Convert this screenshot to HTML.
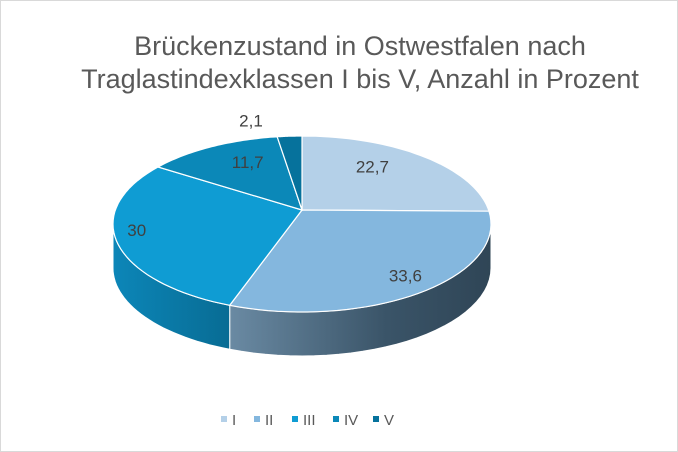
<!DOCTYPE html>
<html><head><meta charset="utf-8"><style>
html,body{margin:0;padding:0;background:#fff}
svg{display:block;font-family:"Liberation Sans",sans-serif}
</style></head><body>
<svg id="chart" width="678" height="452" viewBox="0 0 678 452">
<defs>
<linearGradient id="gII" x1="0" x2="1" y1="0" y2="0"><stop offset="0" stop-color="#6a8aa3"/><stop offset="0.6" stop-color="#3a5468"/><stop offset="1" stop-color="#2f4556"/></linearGradient>
<linearGradient id="gIII" x1="0" x2="1" y1="0" y2="0"><stop offset="0" stop-color="#0c86b8"/><stop offset="1" stop-color="#086c94"/></linearGradient>
</defs>
<rect x="0.5" y="0.5" width="677" height="451" fill="#fff" stroke="#d9d9d9"/>
<text x="360" y="55" text-anchor="middle" font-size="27" fill="#595959">Brückenzustand in Ostwestfalen nach</text>
<text x="360" y="88" text-anchor="middle" font-size="27" fill="#595959">Traglastindexklassen I bis V, Anzahl in Prozent</text>
<g id="sides"></g><g id="tops"></g><g id="labels"></g><g id="legend"></g>
</svg>
<script>
const categories=["I","II","III","IV","V"];
const values=[22.7,33.6,30,11.7,2.1];
const labels=["22,7","33,6","30","11,7","2,1"];
const colors=["#b4d0e8","#84b7de","#0f9cd3","#0b88b8","#06729c"];
const sideFills=["#8fb0cc","url(#gII)","url(#gIII)","#096f98","#055b7d"];
const cx=302,cy=224,rx=189,ry=88,depth=44,ax=302,ay=210;
const NS="http://www.w3.org/2000/svg";
function pt(t,dy){const r=t*Math.PI/180;return [cx+rx*Math.sin(r),cy-ry*Math.cos(r)+(dy||0)];}
function mk(tag,attrs,parent){const e=document.createElementNS(NS,tag);for(const k in attrs)e.setAttribute(k,attrs[k]);parent.appendChild(e);return e;}
const total=values.reduce((a,b)=>a+b,0);
let acc=0;const sides=document.getElementById('sides'),tops=document.getElementById('tops'),lab=document.getElementById('labels');
const labelPos=[[0.57,0.86],[0.89,0.74],[0.90,0.29],[0.60,0.80],[4.1,1.18]];
values.forEach((v,i)=>{
  const t1=acc/total*360,t2=(acc+v)/total*360;acc+=v;
  const s1=Math.max(t1,90),s2=Math.min(t2,270);
  if(s2>s1){
    let d="";const n=30;
    for(let k=0;k<=n;k++){const p=pt(s1+(s2-s1)*k/n);d+=(k?"L":"M")+p[0].toFixed(1)+","+p[1].toFixed(1);}
    for(let k=n;k>=0;k--){const p=pt(s1+(s2-s1)*k/n,depth);d+="L"+p[0].toFixed(1)+","+p[1].toFixed(1);}
    const e=mk('path',{d:d+"Z",fill:sideFills[i],stroke:"#fff","stroke-width":"1"},sides);
    
    
  }
  let d="M"+ax+","+ay;const n=40;
  for(let k=0;k<=n;k++){const p=pt(t1+(t2-t1)*k/n);d+="L"+p[0].toFixed(1)+","+p[1].toFixed(1);}
  const e=mk('path',{d:d+"Z",fill:colors[i],stroke:"#fff","stroke-width":"1.2"},tops);
  
  
  const m=(t1+t2)/2,[fr,fy]=labelPos[i];const r=m*Math.PI/180;
  const tx=cx+rx*fr*Math.sin(r),ty=cy-ry*fy*Math.cos(r)+6;
  const tl=mk('text',{x:tx.toFixed(1),y:ty.toFixed(1),"text-anchor":"middle","font-size":"17",fill:"#404040"},lab);
  tl.textContent=labels[i];
  
  
});
const leg=document.getElementById('legend');
const legX=[221,254,292,333,373];
categories.forEach((c,i)=>{
  const g=mk('g',{},leg);
  
  
  mk('rect',{x:legX[i],y:416,width:6,height:6,fill:colors[i]},g);
  const t=mk('text',{x:legX[i]+11,y:425,"font-size":"15",fill:"#595959"},g);
  t.textContent=c;
});
</script>
</body></html>
